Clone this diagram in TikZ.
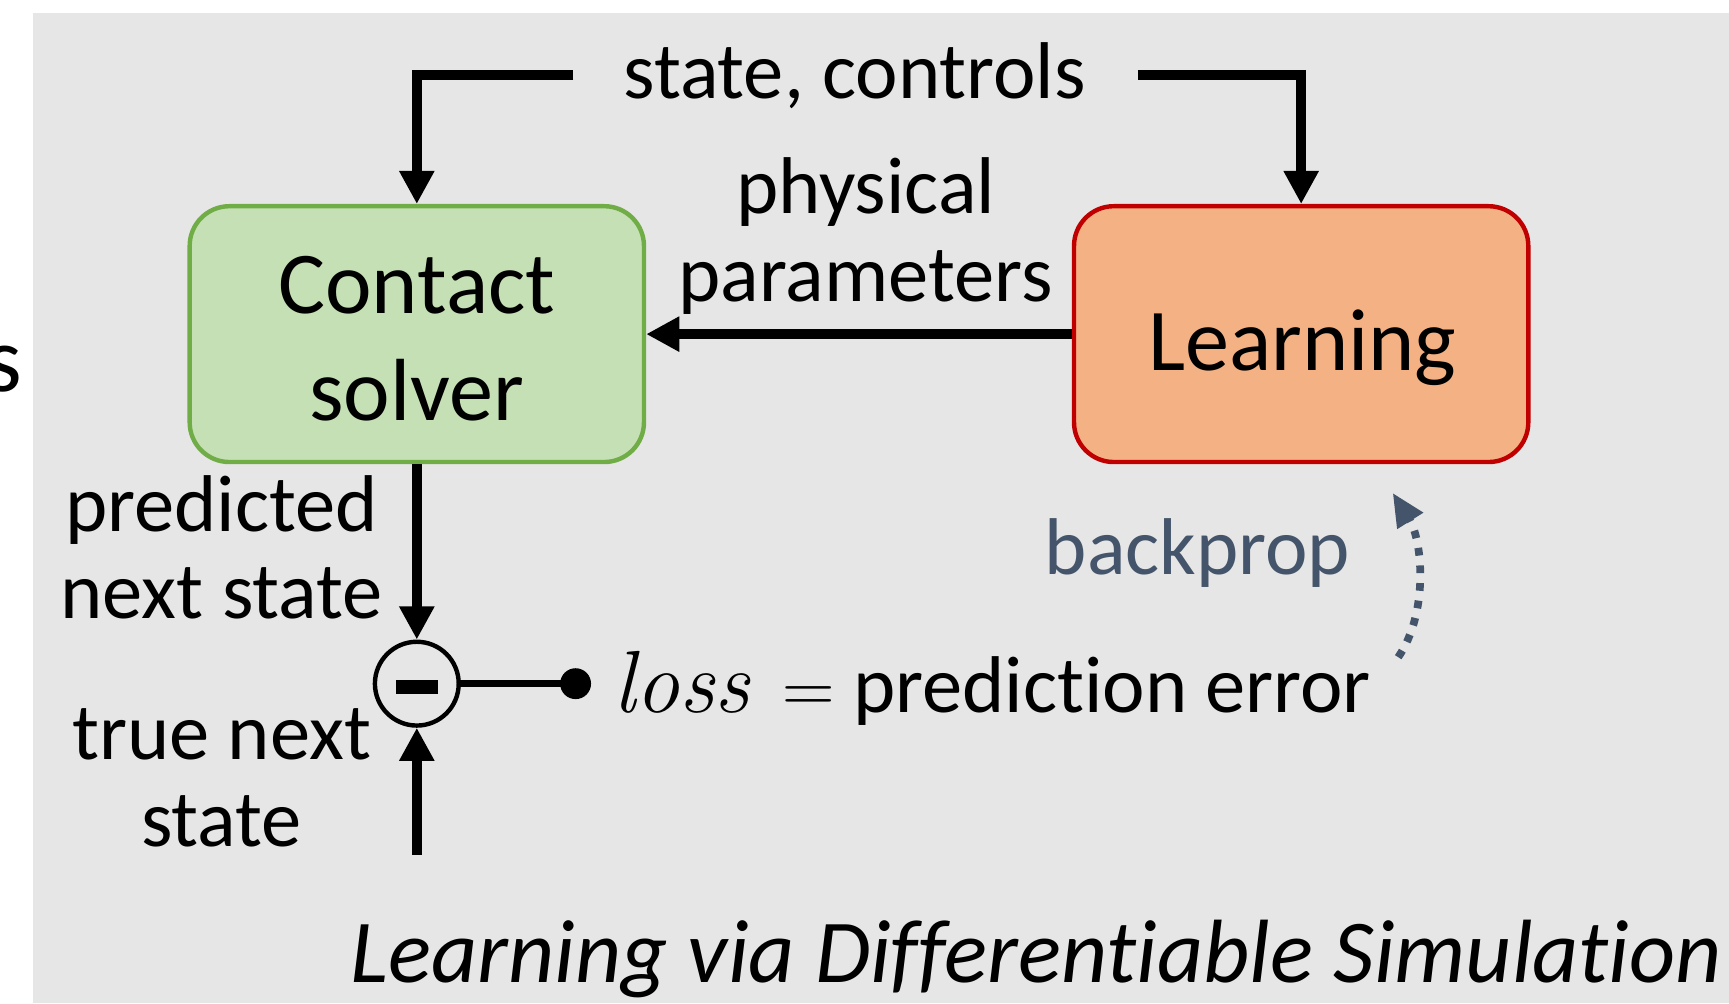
\documentclass[tikz,border=0pt]{standalone}
\usepackage{fontspec}
\setmainfont{Carlito}[Ligatures=NoCommon]
\newfontfamily\lmfont{Latin Modern Roman}
\usetikzlibrary{arrows.meta}
\definecolor{bggray}{HTML}{E6E6E6}
\definecolor{solverfill}{HTML}{C5E0B4}
\definecolor{solverdraw}{HTML}{70AD47}
\definecolor{learnfill}{HTML}{F4B183}
\definecolor{learndraw}{HTML}{C00000}
\definecolor{bpcolor}{HTML}{44546A}
\begin{document}
\begin{tikzpicture}[x=1pt,y=-1pt,
  lbl/.style={font=\fontsize{73}{80}\selectfont, inner sep=0pt, anchor=base},
  big/.style={font=\fontsize{80}{97}\selectfont, inner sep=0pt, anchor=base},
  box/.style={rounded corners=36pt, line width=4pt, minimum width=412pt,
              minimum height=232pt, inner sep=0pt},
  flow/.style={line width=9pt, -{Triangle[length=30pt,width=30pt]}}]
\useasboundingbox (0,0) rectangle (1568,910);
% panel background
\fill[bggray] (30,12) rectangle (1568,910);
% letter from the neighbouring panel
\node[font=\fontsize{85}{90}\selectfont, inner sep=0pt, anchor=base east] (edge) at (20,355) {s};

% blocks
\node[box, fill=solverfill, draw=solverdraw] (solver) at (378,303) {};
\node[big] (solverA) at (378,284) {Contact};
\node[big] (solverB) at (378,381) {solver};
\node[box, fill=learnfill, draw=learndraw] (learn) at (1180,303) {};
\node[big] (learnT) at (1181,336) {Learning};

% inputs
\node[lbl] (sc) at (775,89) {state, controls};
\coordinate (inL) at (520,68);
\coordinate (inR) at (1032,68);
\draw[flow] (inL) -| (solver.north);
\draw[flow] (inR) -| (learn.north);

% learned parameters
\node[lbl] (physA) at (785,194) {physical};
\node[lbl] (physB) at (785,273) {parameters};
\draw[flow] (learn.west) -- (solver.east);

% comparison with the true next state
\node[circle, draw, line width=4pt, minimum size=76pt, inner sep=0pt] (diff) at (378,620) {};
\node[fill, minimum width=38pt, minimum height=12pt, inner sep=0pt] (minus) at (378,623) {};
\draw[flow] (solver.south) -- (diff.north);
\coordinate (truein) at (378,775);
\draw[flow] (truein) -- (diff.south);
\node[lbl] (predA) at (201,482) {predicted};
\node[lbl] (predB) at (201,561) {next state};
\node[lbl] (trueA) at (201,689) {true next};
\node[lbl] (trueB) at (201,768) {state};

% loss
\node[circle, fill, minimum size=28pt, inner sep=0pt] (dot) at (522,620) {};
\draw[line width=6pt] (diff.east) -- (dot.center);
\node[lbl, anchor=base west] (loss) at (556,646)
  {{\lmfont\itshape\fontsize{80}{80}\selectfont loss}\hspace{29pt}{\lmfont\fontsize{66}{66}\selectfont =}\hspace{17pt}prediction error};

% gradient path
\node[lbl, text=bpcolor] (bp) at (1086,521) {backprop};
\coordinate (bpS) at (1268,596);
\coordinate (bpE) at (1263,447);
\draw[bpcolor, line width=7pt, dash pattern=on 7pt off 9pt,
      -{Triangle[length=30pt,width=26pt]}]
  (bpS) .. controls (1296,555) and (1290,490) .. (bpE);

% caption
\node[font=\itshape\fontsize{81.5}{90}\selectfont, inner sep=0pt, anchor=base] (title) at (940,891) {Learning via Differentiable Simulation};
\end{tikzpicture}
\end{document}
